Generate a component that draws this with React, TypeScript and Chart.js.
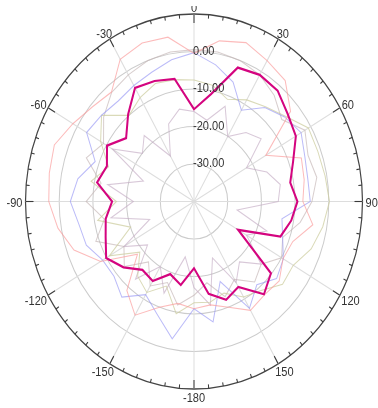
import React, { useEffect, useRef } from 'react';
import { Chart, registerables } from 'chart.js';

Chart.register(...registerables);

// Angles in degrees, 0 at top, clockwise
const angles = [0, 10, 20, 30, 40, 50, 60, 70, 80, 90, 100, 110, 120, 130, 140, 150, 160, 170,
  180, 190, 200, 210, 220, 230, 240, 250, 260, 270, 280, 290, 300, 310, 320, 330, 340, 350];

const mainSeries = [-15.4, -10.9, -2.0, -1.0, -1.4, -3.7, -5.1, -8.7, -11.0, -9.3, -10.7, -12.7,
  -24.9, -10.2, -7.7, -13.7, -12.1, -15.0, -22.2, -17.4, -19.4, -15.5, -16.2, -12.7,
  -9.9, -12.1, -13.4, -15.7, -10.8, -12.5, -10.2, -13.7, -9.6, -5.0, -5.8, -6.8];

const pinkSeries = [-0.5, 3.5, 5.1, 3.4, 2.1, -2.6, -15.4, -6.1, -6.8, -7.7, -4.2, -8.8,
  -9.5, -7.0, -7.5, -6.5, -10.0, -12.0, -11.4, -12.4, -10.0, -5.0, -9.0, -18.1,
  -8.0, -2.1, 1.0, 3.1, 3.6, 4.1, 1.5, -0.7, -1.9, 3.8, 5.0, 4.5];

const blueSeries = [-0.3, -3.0, -6.1, -11.9, -7.3, -4.9, -3.3, -5.0, -5.7, -5.5, -13.5, -12.0,
  -9.4, -8.0, -11.0, -7.1, -17.3, -7.4, -11.4, -2.8, -8.0, -11.3, -6.7, -9.0,
  -8.7, -6.0, -5.3, -3.3, -5.0, -8.8, -3.2, -4.2, -5.0, -4.3, -3.3, -1.6];

const oliveSeries = [-7.6, -8.5, -11.0, -8.7, -7.0, -4.6, -0.8, -0.9, -0.5, 0.2, -1.2, -3.0,
  -6.0, -5.7, -9.0, -10.6, -14.0, -12.7, -13.0, -9.6, -16.0, -12.0, -14.0, -19.0,
  -11.0, -20.0, -11.0, -17.0, -9.0, -13.0, -8.0, -4.2, -10.0, -8.0, -6.5, -7.0];

const mauveSeries = [-16, -18, -13, -20, -16, -14, -22, -17, -14, -15, -27, -17,
  -22, -14, -19, -15, -24, -12, -17, -25, -14, -20, -13, -22,
  -16, -26, -15, -22, -14, -24, -12, -20, -17, -26, -18, -15];

const greySeries = [0.5, 0.5, 0, -1, -3, -6, -2, -4, -3, -5, -8, -12,
  -10, -14, -12, -16, -13, -18, -15, -12, -17, -14, -19, -13,
  -16, -9, -13, -8, -12, -6, -9, -5, -2, -1, 0, 0.5];

const radialMin = -40;
const radialMax = 10;
const radialStep = 10;
const radialLabelValues = [0, -10, -20, -30];

const angleLabelDegrees = [0, 30, 60, 90, 120, 150, 180, 210, 240, 270, 300, 330];
const angleLabelTexts = ['0', '30', '60', '90', '120', '150', '-180', '-150', '-120', '-90', '-60', '-30'];

const W = 378;
const H = 408;
const CX = 194;
const CY = 201.5;
const RX = 168.5;
const RY = 187.5;
const FONT = '11px "Liberation Sans", Arial, sans-serif';

const stretchPlugin = {
  id: 'stretchPolar',
  beforeDraw(chart: any) {
    const s = chart.scales.r;
    const ctx = chart.ctx;
    const sx = RX / s.drawingArea;
    const sy = RY / s.drawingArea;
    ctx.save();
    ctx.translate(CX, CY);
    ctx.scale(sx, sy);
    ctx.translate(-s.xCenter, -s.yCenter);
  },
  afterDraw(chart: any) {
    const s = chart.scales.r;
    const ctx = chart.ctx;
    const R = s.drawingArea;
    const cx = s.xCenter;
    const cy = s.yCenter;

    // outer ring ticks
    ctx.save();
    ctx.strokeStyle = '#3a3a3a';
    ctx.lineWidth = 1;
    for (let a = 0; a < 360; a += 5) {
      const L = a % 30 === 0 ? 8 : 3.5;
      const rad = (a * Math.PI) / 180;
      const sn = Math.sin(rad);
      const cs = Math.cos(rad);
      ctx.beginPath();
      ctx.moveTo(cx + R * sn, cy - R * cs);
      ctx.lineTo(cx + (R - L) * sn, cy - (R - L) * cs);
      ctx.stroke();
    }
    ctx.restore();

    // radial value labels
    ctx.save();
    ctx.font = FONT;
    ctx.fillStyle = '#333';
    ctx.textAlign = 'left';
    ctx.textBaseline = 'middle';
    radialLabelValues.forEach((v) => {
      const d = s.getDistanceFromCenterForValue(v);
      ctx.fillText(v.toFixed(2), cx - 1, cy - d);
    });
    ctx.restore();

    // angle labels (clipped at the top like the reference)
    ctx.save();
    const m = ctx.getTransform();
    ctx.setTransform(1, 0, 0, 1, 0, 0);
    ctx.beginPath();
    ctx.rect(0, 6, W, H);
    ctx.clip();
    ctx.setTransform(m);
    ctx.font = FONT;
    ctx.fillStyle = '#333';
    ctx.textAlign = 'center';
    ctx.textBaseline = 'middle';
    const g = 3;
    const hh = 4;
    angleLabelDegrees.forEach((a, i) => {
      const rad = (a * Math.PI) / 180;
      const sn = Math.sin(rad);
      const cs = Math.cos(rad);
      const txt = angleLabelTexts[i];
      const w = ctx.measureText(txt).width;
      const x = cx + (R + g) * sn + sn * (w / 2);
      const y = cy + 2 - (R + g) * cs - cs * hh;
      ctx.fillText(txt, x, y);
    });
    ctx.restore();

    ctx.restore(); // undo stretch transform
  },
};

export default function App() {
  const canvasRef = useRef<HTMLCanvasElement | null>(null);

  useEffect(() => {
    if (!canvasRef.current) return;
    const faint = (color: string, data: number[]) => ({
      data,
      borderColor: color,
      borderWidth: 1,
      pointRadius: 0,
      fill: false,
      tension: 0,
    });
    const chart = new Chart(canvasRef.current, {
      type: 'radar',
      data: {
        labels: angles.map(String),
        datasets: [
          {
            data: mainSeries,
            borderColor: '#d4047f',
            borderWidth: 2,
            pointRadius: 0,
            fill: false,
            tension: 0,
          },
          faint('rgba(250, 150, 150, 0.65)', pinkSeries),
          faint('rgba(150, 150, 245, 0.65)', blueSeries),
          faint('rgba(205, 205, 160, 0.75)', oliveSeries),
          faint('rgba(195, 170, 195, 0.65)', mauveSeries),
          faint('rgba(195, 180, 180, 0.65)', greySeries),
        ],
      },
      options: {
        responsive: false,
        animation: false,
        layout: { padding: { left: 20, right: 21, top: 0, bottom: 0 } },
        plugins: {
          legend: { display: false },
          tooltip: { enabled: false },
        },
        scales: {
          r: {
            min: radialMin,
            max: radialMax,
            ticks: { display: false, stepSize: radialStep },
            pointLabels: { display: false },
            grid: {
              circular: true,
              color: (c: any) => (c.tick && c.tick.value === radialMax ? '#444' : '#cccccc'),
              lineWidth: (c: any) => (c.tick && c.tick.value === radialMax ? 1.2 : 1),
            },
            angleLines: {
              display: true,
              color: (c: any) => (c.index % 3 === 0 ? '#dddddd' : 'rgba(0,0,0,0)'),
              lineWidth: 1,
            },
          },
        },
      },
      plugins: [stretchPlugin],
    } as any);
    return () => chart.destroy();
  }, []);

  return (
    <div style={{ position: 'fixed', left: 0, top: 0, width: W, height: H, background: '#fff' }}>
      <canvas ref={canvasRef} width={W} height={H} style={{ width: W, height: H, display: 'block' }} />
    </div>
  );
}
